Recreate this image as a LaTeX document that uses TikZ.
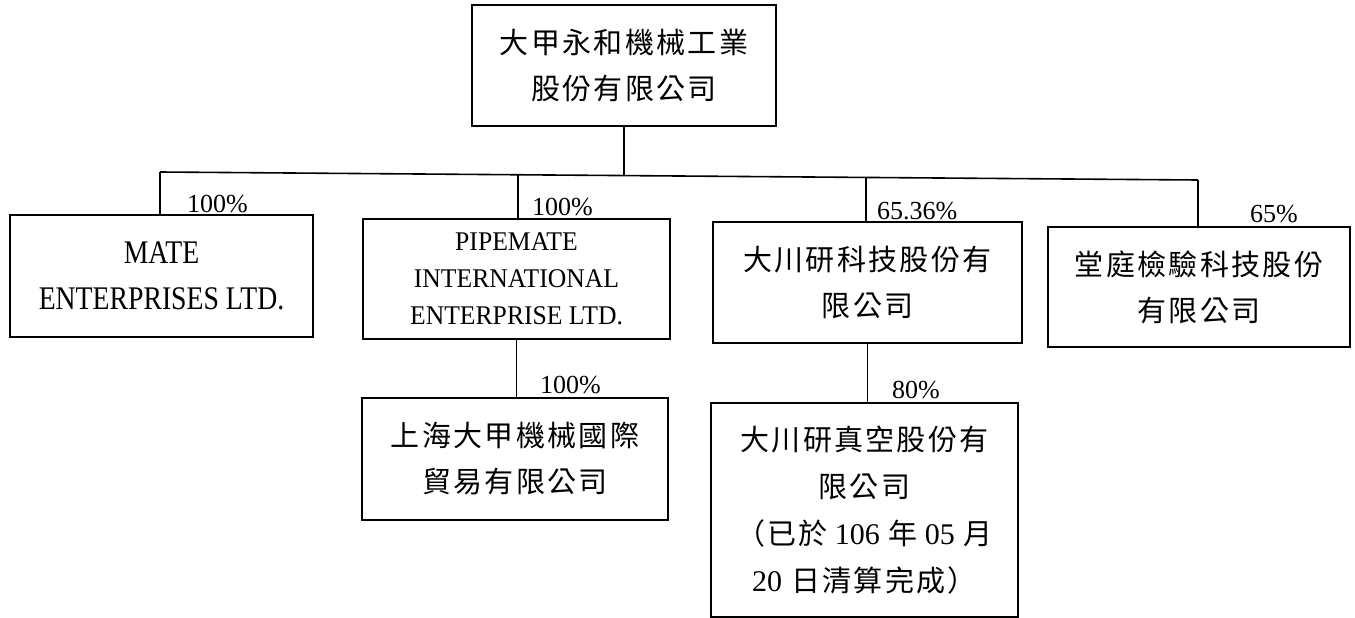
\documentclass[tikz,border=0pt]{standalone}
\usepackage{fontspec}
\usetikzlibrary{calc}
\setmainfont{Liberation Serif}
\newfontfamily\cjk[LetterSpace=8]{Noto Sans CJK TC}
\newfontfamily\lat[FakeStretch=0.84]{Liberation Serif}
\newfontfamily\latb[FakeStretch=0.95]{Liberation Serif}
\newcommand{\nm}[1]{{\rmfamily\fontsize{30}{47}\selectfont #1}}
\begin{document}
\begin{tikzpicture}[x=1pt,y=-1pt,
  box/.style={draw, line width=1.8pt, rectangle, inner sep=0pt, align=center},
  cn/.style={font=\cjk\fontsize{29}{46}\selectfont},
  en/.style={font=\lat\fontsize{33}{46}\selectfont},
  pct/.style={font=\fontsize{26}{26}\selectfont, anchor=base west, inner sep=0pt},
  link/.style={line width=1.6pt}]
\useasboundingbox (0,0) rectangle (1355,618);
\fill[white] (0,0) rectangle (1355,618);

\node[box, cn, minimum width=304pt, minimum height=121pt] (top) at (624,65.5) {大甲永和機械工業\\股份有限公司};

\node[box, en, minimum width=303pt, minimum height=122pt] (mate) at (161.5,276) {MATE\\ENTERPRISES LTD.};
\node[box, font=\latb\fontsize{27}{37}\selectfont, minimum width=307pt, minimum height=120pt] (pipe) at (516.5,279) {PIPEMATE\\INTERNATIONAL\\ENTERPRISE LTD.};
\node[box, cn, minimum width=309pt, minimum height=121pt] (dcy) at (867.5,282.5) {大川研科技股份有\\限公司};
\node[box, cn, minimum width=302pt, minimum height=120pt] (tt) at (1199,287) {堂庭檢驗科技股份\\有限公司};

\node[box, cn, minimum width=306pt, minimum height=122pt] (sh) at (515,459) {上海大甲機械國際\\貿易有限公司};
\node[box, font=\cjk\fontsize{29}{47}\selectfont, minimum width=307pt, minimum height=214pt] (vac) at (864.5,510)
  {大川研真空股份有\\限公司\\（已於\hspace{7pt}\nm{106}\hspace{9pt}年\hspace{7pt}\nm{05}\hspace{9pt}月\\\nm{20}\hspace{9pt}日清算完成）};

% bus
\coordinate (busL) at (160,172);
\coordinate (busR) at (1198,180);
\coordinate (bTop) at ($(busL)!0.445!(busR)$);
\coordinate (b2) at ($(busL)!0.345!(busR)$);
\coordinate (b3) at ($(busL)!0.680!(busR)$);

\draw[link] (top.south) -- (top.south |- bTop);
\draw[link] (busL) -- (busR);
\draw[link] (busL) -- (busL |- mate.north);
\draw[link] (b2) -- (b2 |- pipe.north);
\draw[link] (b3) -- (b3 |- dcy.north);
\draw[link] (busR) -- (busR |- tt.north);
\draw[link] (pipe.south) -- (pipe.south |- sh.north);
\draw[link] (dcy.south) -- (dcy.south |- vac.north);

\node[pct] (p1) at (187,212) {100\%};
\node[pct] (p2) at (532,215) {100\%};
\node[pct] (p3) at (877,219) {65.36\%};
\node[pct] (p4) at (1250,222) {65\%};
\node[pct] (p5) at (540,393) {100\%};
\node[pct] (p6) at (892,398) {80\%};
\end{tikzpicture}
\end{document}
